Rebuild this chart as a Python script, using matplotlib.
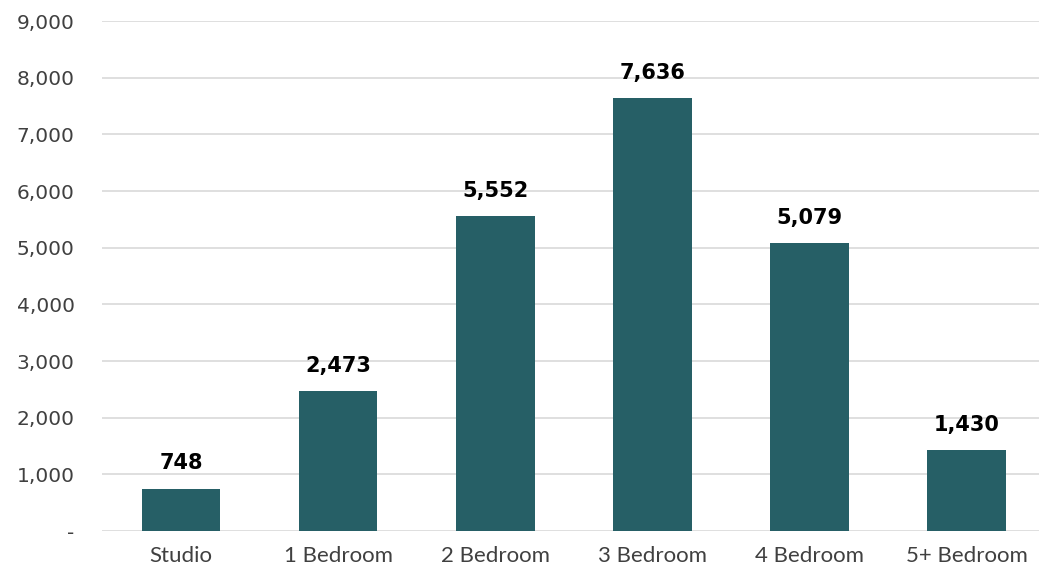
import matplotlib
matplotlib.use("Agg")
import matplotlib.pyplot as plt
from matplotlib.ticker import FuncFormatter

categories = ["Studio", "1 Bedroom", "2 Bedroom", "3 Bedroom", "4 Bedroom", "5+ Bedroom"]
values = [748, 2473, 5552, 7636, 5079, 1430]

plt.rcParams['font.family'] = ['Lato', 'DejaVu Sans']

fig = plt.figure(figsize=(10.39, 5.68), dpi=100)
ax = fig.add_axes([0.0985, 0.065, 0.9075, 0.898])

x = range(len(categories))
ax.bar(x, values, width=0.5, color="#265F66", zorder=3)
for xi, v in zip(x, values):
    ax.annotate(f"{v:,}", (xi, v), xytext=(0, 11), textcoords="offset points",
                ha="center", va="bottom", fontsize=15, fontweight="bold",
                color="black", family=["DejaVu Sans"])

ax.set_xlim(-0.5, len(categories) - 0.5)
ax.set_ylim(0, 9000)
ax.set_yticks(range(0, 9001, 1000))
ax.yaxis.set_major_formatter(FuncFormatter(lambda v, p: "-" if v == 0 else f"{int(v):,}"))
ax.set_xticks(list(x))
ax.set_xticklabels(categories)
ax.tick_params(axis="both", length=0, labelcolor="#404040")
ax.tick_params(axis="y", pad=20, labelsize=14.5)
ax.tick_params(axis="x", pad=11, labelsize=16)
for lab in ax.get_yticklabels():
    lab.set_family(["DejaVu Sans"])
ax.grid(axis="y", color="#D9D9D9", linewidth=1.2, zorder=0)
for s in ax.spines.values():
    s.set_visible(False)

fig.savefig("out.png", dpi=100)
